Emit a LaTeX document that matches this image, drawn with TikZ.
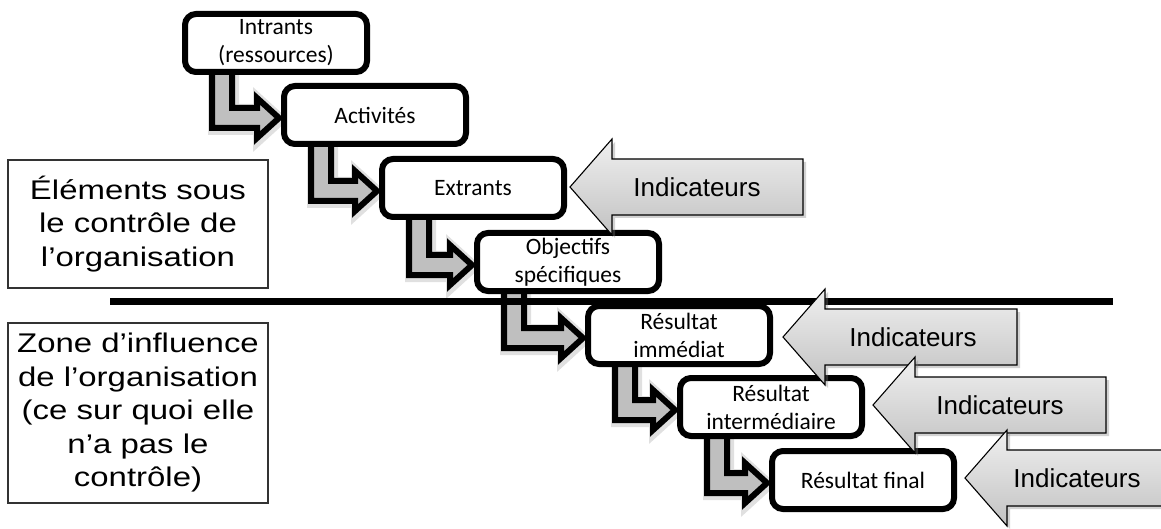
\documentclass[tikz,border=0pt]{standalone}
\usepackage{fontspec}
\setmainfont{Liberation Sans}
\newfontfamily\calib{Carlito}
\newfontfamily\widesans[FakeStretch=1.22]{Liberation Sans}
\usetikzlibrary{calc,shadows}
\pgfdeclarelayer{background}
\pgfsetlayers{background,main}
\tikzset{
  boxst/.style={draw=black, line width=6pt, rounded corners=11pt, fill=white,
    minimum width=182pt, minimum height=58pt, inner sep=0pt, align=center,
    font=\calib\fontsize{23.5}{28}\selectfont},
  leftbox/.style={draw=black!80, line width=1.2pt, fill=white, minimum width=260pt,
    inner sep=0pt, align=center, font=\widesans\fontsize{27}{33.5}\selectfont},
  larr/.style={draw=black, line width=6pt, fill=black!25, miter limit=10,
    preaction={draw=black!12, line width=11pt, transform canvas={shift={(1.5pt,-1.5pt)}}}},
  indst/.style={draw=black, line width=1.1pt, top color=black!6, bottom color=black!24,
    drop shadow={shadow xshift=3pt, shadow yshift=-3pt, opacity=0.35}},
  indtext/.style={font=\fontsize{26}{30}\selectfont, inner sep=0pt},
  divider/.style={line width=7pt, draw=black}
}
\newcommand\larrow[2]{%
  \path[larr] let \p1=(#1.south west), \p2=(#2.west) in
    (\x1+30pt,\y1+4pt) -- (\x1+50pt,\y1+4pt) -- (\x1+50pt,\y2+7pt)
    -- (\x2-24pt,\y2+7pt) -- (\x2-24pt,\y2+17pt) -- (\x2-2pt,\y2-3pt)
    -- (\x2-24pt,\y2-23pt) -- (\x2-24pt,\y2-13pt) -- (\x1+30pt,\y2-13pt) -- cycle;}
\newcommand\indic[5]{%
  \draw[indst] (#1,#2) -- ++(42,-48) -- ++(0,20) -- (#3,#2-28) -- (#3,#2+28)
    -- (#1+42,#2+28) -- ++(0,20) -- cycle;
  \node[indtext] (#5) at (#4,#2) {Indicateurs};}
\begin{document}
\begin{tikzpicture}[x=1pt,y=-1pt]
\useasboundingbox (0,0) rectangle (1161,529);

% left boxes
\node[leftbox, minimum height=128pt] (lb1) at (138,224) {Éléments sous\\le contrôle de\\l’organisation};
\node[leftbox, minimum height=180pt] (lb2) at (138,413) {Zone d’influence\\de l’organisation\\(ce sur quoi elle\\n’a pas le\\contrôle)};

% chain boxes
\node[boxst] (b1) at (276,43) {Intrants\\(ressources)};
\node[boxst] (b2) at (375,115) {Activités};
\node[boxst] (b3) at (473,188) {Extrants};
\node[boxst] (b4) at (568,262) {Objectifs\\spécifiques};
\node[boxst] (b5) at (679,335) {Résultat\\immédiat};
\node[boxst] (b6) at (771,407) {Résultat\\intermédiaire};
\node[boxst] (b7) at (863,480) {Résultat final};

\begin{pgfonlayer}{background}
\fill[white] (0,0) rectangle (1161,529);
\larrow{b1}{b2}
\larrow{b2}{b3}
\larrow{b3}{b4}
\larrow{b4}{b5}
\larrow{b5}{b6}
\larrow{b6}{b7}
\coordinate (dl) at (110,301);
\coordinate (dr) at (1113,301);
\draw[divider] (dl) -- (dr);
\end{pgfonlayer}

% indicator arrows
\indic{570}{187}{803}{697}{i1}
\indic{783}{337}{1017}{913}{i2}
\indic{873}{405}{1106}{1000}{i3}
\indic{965}{478}{1185}{1077}{i4}
\end{tikzpicture}
\end{document}
